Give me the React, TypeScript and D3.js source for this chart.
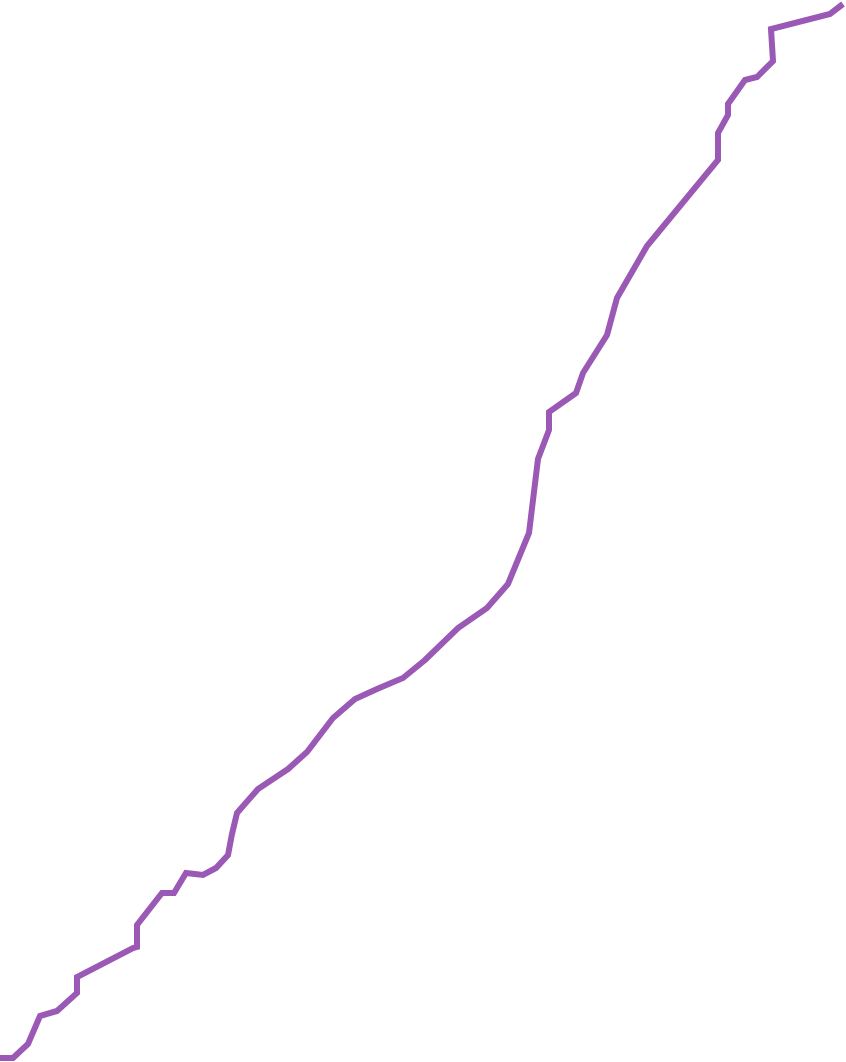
import { useEffect, useRef } from 'react';
import * as d3 from 'd3';

const width = 846;
const height = 1062;

// x positions and values
const xs = [0, 13, 28, 40, 57, 77, 77, 133, 137, 137, 162, 174, 186, 203, 216, 228, 232, 237, 258, 288, 307, 333, 355, 377, 403, 425, 458, 487, 508, 529, 538, 549, 549, 576, 583, 607, 617, 647, 718, 718, 728, 728, 745, 757, 773, 771, 830, 843];
const values = [4, 4, 18, 46, 51, 69, 85, 114, 115, 137, 169, 169, 189, 187, 194, 207, 228, 249, 273, 293, 310, 344, 363, 373, 384, 402, 434, 454, 478, 529, 603, 632, 650, 669, 689, 727, 764, 816, 902, 929, 947, 958, 982, 985, 1001, 1033, 1048, 1058];

export default function App() {
  const svgRef = useRef<SVGSVGElement>(null);

  useEffect(() => {
    if (!svgRef.current) return;
    const svg = d3.select(svgRef.current);
    svg.selectAll('*').remove();

    const x = d3.scaleLinear().domain([0, width]).range([0, width]);
    const y = d3.scaleLinear().domain([0, height]).range([height, 0]);

    const pts: [number, number][] = xs.map((v, i) => [v, values[i]]);
    const line = d3.line<[number, number]>().x(d => x(d[0])).y(d => y(d[1]));

    svg.append('path')
      .datum(pts)
      .attr('d', line)
      .attr('fill', 'none')
      .attr('stroke', '#9b59b6')
      .attr('stroke-width', 6)
      .attr('stroke-linejoin', 'miter');
  }, []);

  return (
    <svg
      ref={svgRef}
      width={width}
      height={height}
      style={{ position: 'fixed', left: 0, top: 0, background: '#fff' }}
    />
  );
}
